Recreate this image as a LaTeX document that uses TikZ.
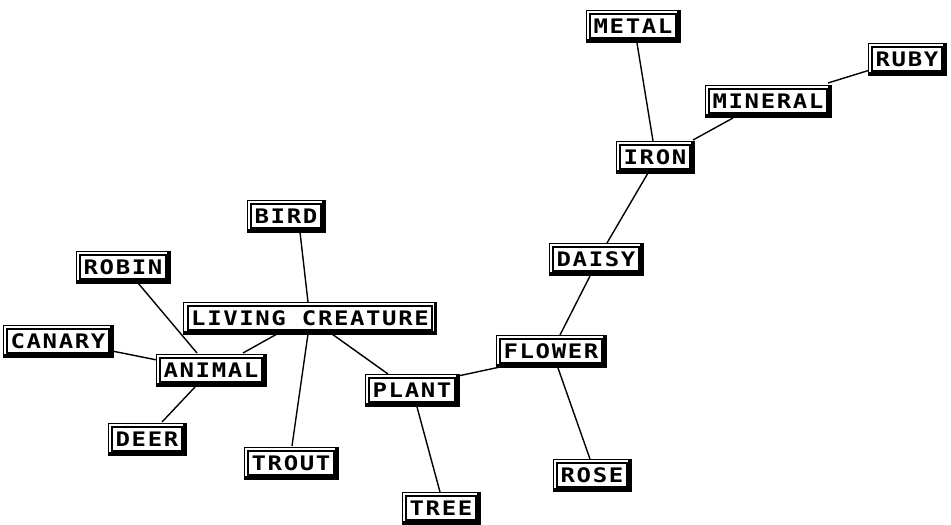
\documentclass[tikz,border=0pt]{standalone}
\usepackage{fontspec}
\newfontfamily\pix{DejaVu Sans Mono}[FakeStretch=1.2, LetterSpace=8]
\usetikzlibrary{calc}
\pgfdeclarelayer{edges}
\pgfdeclarelayer{frames}
\pgfsetlayers{edges,frames,main}
\tikzset{
  word/.style={draw, line width=1.6pt, fill=white, inner xsep=3.5pt, inner ysep=0pt,
    minimum height=24pt, font=\pix\bfseries\fontsize{20}{20}\selectfont},
  link/.style={line width=1.4pt}
}
\begin{document}
\begin{tikzpicture}[x=1pt,y=-1pt]
\useasboundingbox (0,0) rectangle (951,525);
\node[word] (metal)   at (633,26)  {METAL};
\node[word] (ruby)    at (907,59)  {RUBY};
\node[word] (mineral) at (768,101) {MINERAL};
\node[word] (iron)    at (655,157) {IRON};
\node[word] (bird)    at (286,216) {BIRD};
\node[word] (daisy)   at (596,259) {DAISY};
\node[word] (robin)   at (123,267) {ROBIN};
\node[word] (lc)      at (310,318) {LIVING CREATURE};
\node[word] (canary)  at (58,341)  {CANARY};
\node[word] (flower)  at (551,351) {FLOWER};
\node[word] (animal)  at (211,370) {ANIMAL};
\node[word] (plant)   at (412,390) {PLANT};
\node[word] (deer)    at (147,439) {DEER};
\node[word] (trout)   at (291,463) {TROUT};
\node[word] (rose)    at (592,475) {ROSE};
\node[word] (tree)    at (441,508) {TREE};
\begin{pgfonlayer}{frames}
\foreach \n in {metal,ruby,mineral,iron,bird,daisy,robin,lc,canary,flower,animal,plant,deer,trout,rose,tree}{
  \fill[black] ([shift={(-3.5pt,3pt)}]\n.north west) rectangle ([shift={(4pt,-4pt)}]\n.south east);
  \fill[white] ([shift={(-2.5pt,2pt)}]\n.north west) rectangle ([shift={(0.5pt,-0.5pt)}]\n.south east);
}
\end{pgfonlayer}
\begin{pgfonlayer}{edges}
\draw[link] ($(metal)+(4,17)$) -- ($(iron)+(-2,-16)$);
\draw[link] ($(mineral)+(-35,17)$) -- ($(iron)+(38,-17)$);
\draw[link] ($(mineral)+(60,-18)$) -- ($(ruby)+(-37,11)$);
\draw[link] ($(iron)+(-7,16)$) -- ($(daisy)+(11,-16)$);
\draw[link] ($(daisy)+(-6,17)$) -- ($(flower)+(9,-16)$);
\draw[link] ($(flower)+(-51,16)$) -- ($(plant)+(46,-14)$);
\draw[link] ($(flower)+(7,17)$) -- ($(rose)+(-2,-16)$);
\draw[link] ($(plant)+(5,17)$) -- ($(tree)+(-1,-16)$);
\draw[link] ($(lc)+(22,16)$) -- ($(plant)+(-24,-16)$);
\draw[link] ($(lc)+(-2,16)$) -- ($(trout)+(1,-17)$);
\draw[link] ($(lc)+(-33,16)$) -- ($(animal)+(32,-17)$);
\draw[link] ($(bird)+(14,16)$) -- ($(lc)+(-2,-16)$);
\draw[link] ($(robin)+(15,16)$) -- ($(animal)+(-14,-17)$);
\draw[link] ($(canary)+(54,10)$) -- ($(animal)+(-54,-10)$);
\draw[link] ($(animal)+(-16,17)$) -- ($(deer)+(15,-17)$);
\end{pgfonlayer}
\end{tikzpicture}
\end{document}
